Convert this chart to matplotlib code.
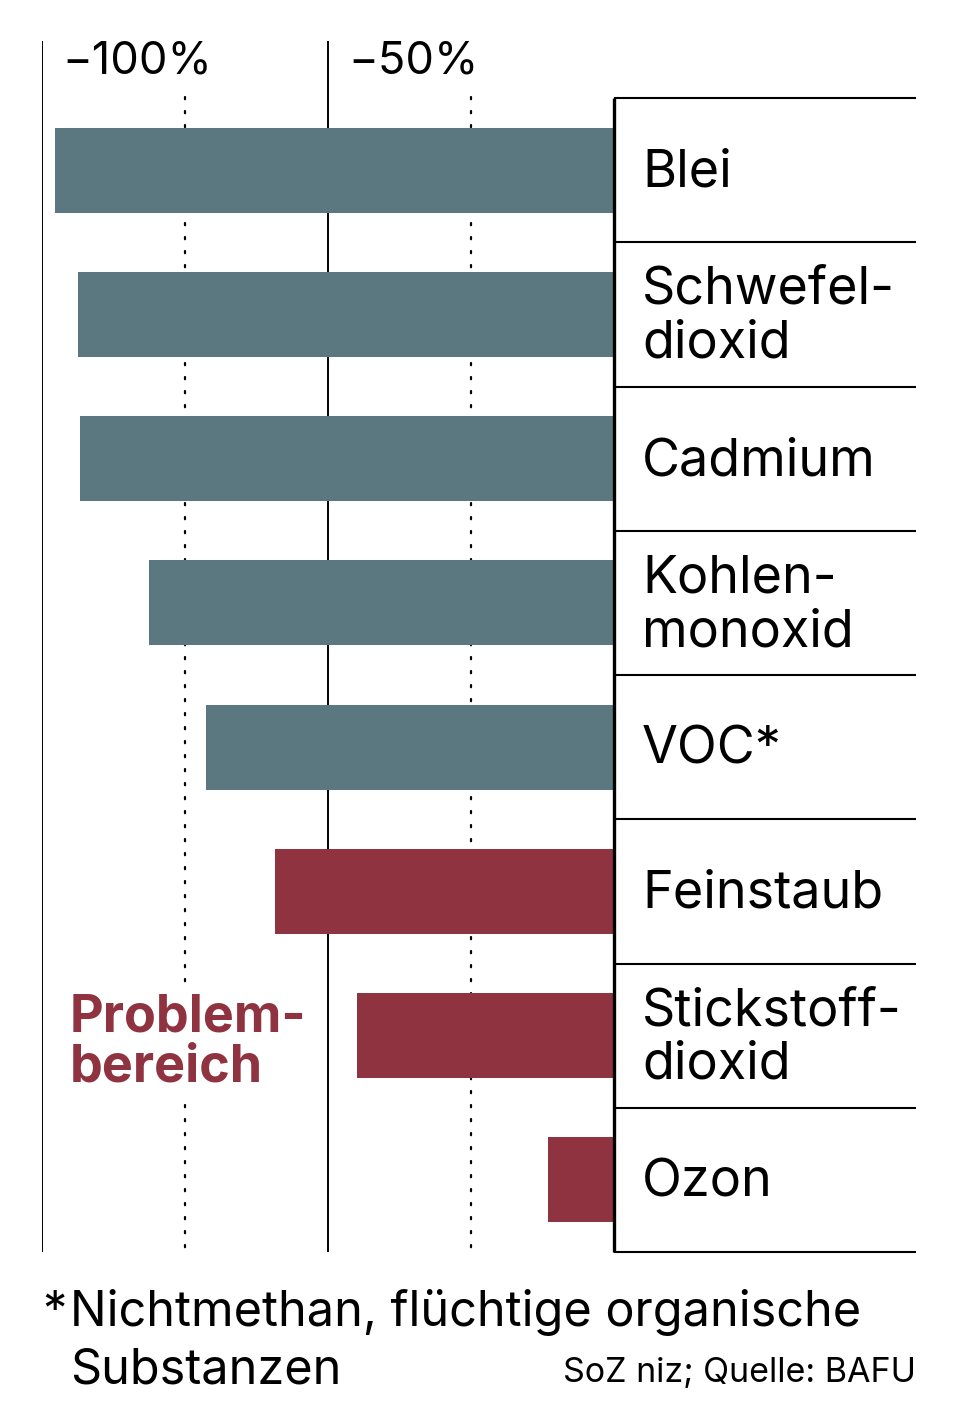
import matplotlib.pyplot as plt

plt.rcParams['font.family'] = ['Inter', 'DejaVu Sans']

# data (change in %, negative = reduction)
substances = ["Blei", "Schwefel-\ndioxid", "Cadmium", "Kohlen-\nmonoxid",
              "VOC*", "Feinstaub", "Stickstoff-\ndioxid", "Ozon"]
changes = [-97.7, -93.7, -93.4, -81.3, -71.3, -59.3, -44.9, -11.5]
problem = [False, False, False, False, False, True, True, True]
tick_values = [-100, -50]
tick_labels = ["\u2212100%", "\u221250%"]
dotted_values = [-75, -25]

teal = "#5b7881"
red = "#8f3341"

W, H = 956, 1426
fig = plt.figure(figsize=(W / 100, H / 100), dpi=100)
# axes spans -100 .. 0 horizontally (px 42..614), px 41..1252 vertically
ax = fig.add_axes([42 / W, (H - 1252) / H, 572 / W, (1252 - 41) / H])
row_px = (1252 - 98) / 8
top = -0.5 - (98 - 41) / row_px
ax.set_xlim(-100, 0)
ax.set_ylim(7.5, top)
ax.axis("off")

px = 572 / 100  # pixels per percent
right_end = (916 - 614) / px

n = len(substances)
ypos = list(range(n))
colors = [red if p else teal for p in problem]
ax.barh(ypos, changes, height=0.59, color=colors, zorder=3)

# solid grid lines with labels on top
for v, lab in zip(tick_values, tick_labels):
    ax.vlines(v, top, 7.5, color="black", lw=1.4, zorder=1)
    ax.text(v + 20 / px, top + 32 / row_px, lab, fontsize=32.5,
            va="baseline", ha="left")

# dotted grid lines
for v in dotted_values:
    ax.plot([v, v], [-0.51, 7.5], color="black", lw=1.6,
            linestyle=(0, (1, 5.3)), zorder=1, solid_capstyle="round",
            dash_capstyle="round")

# zero line and row separators
ax.vlines(0, -0.5, 7.5, color="black", lw=2.4, zorder=4, clip_on=False)
ax.hlines([i - 0.5 for i in range(n + 1)], 0, right_end, color="black",
          lw=1.5, zorder=4, clip_on=False)

for y, name in zip(ypos, substances):
    ax.text(28 / px, y + 0.02, name, fontsize=37.5, va="center", ha="left",
            linespacing=1.12, clip_on=False)

# highlight label (baseline of the last line)
ax.text(-100 + 28 / px, top + (1082 - 41) / row_px, "Problem-\nbereich",
        fontsize=37.5, fontweight="bold", color=red, va="baseline",
        ha="left", linespacing=1.05, zorder=5,
        bbox=dict(facecolor="white", edgecolor="none", pad=6))

# footnote and source
fig.text(42 / W, 1 - 1326 / H, "*", fontsize=35, va="baseline")
fig.text(70 / W, 1 - 1326 / H, "Nichtmethan, flüchtige organische",
         fontsize=35, va="baseline")
fig.text(70 / W, 1 - 1383 / H, "Substanzen", fontsize=35, va="baseline")
fig.text(916 / W, 1 - 1382 / H, "SoZ niz; Quelle: BAFU", fontsize=24.5,
         va="baseline", ha="right")

fig.savefig("out.png", dpi=100, facecolor="white")
